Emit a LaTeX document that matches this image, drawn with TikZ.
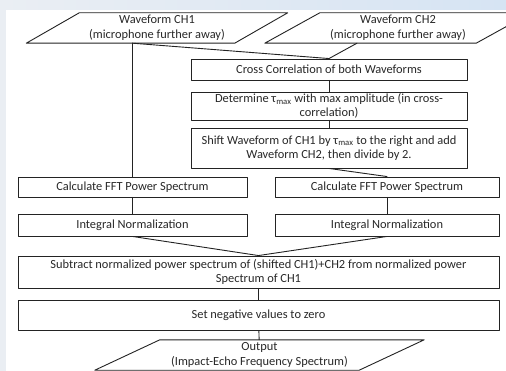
\documentclass[tikz,border=0pt]{standalone}
\usepackage{fontspec}
\setmainfont{Carlito}
\usetikzlibrary{calc}
\definecolor{linec}{RGB}{35,35,35}
\definecolor{textc}{RGB}{40,40,40}
\definecolor{slidebg}{RGB}{234,238,243}
\definecolor{slideblue}{RGB}{214,228,243}
\tikzset{
	procbox/.style={draw=linec,line width=0.9pt,fill=white,align=center,
		inner sep=0pt,text=textc},
	iotext/.style={align=center,inner sep=0pt,text=textc,minimum height=30},
	link/.style={draw=linec,line width=0.9pt}
}
\begin{document}
\begin{tikzpicture}[x=1pt,y=-1pt,font=\fontsize{12.4}{14.5}\selectfont,
	line join=round,line cap=round]
	% slide background
	\fill[slidebg](0,0)rectangle(506,371);
	\shade[left color=slidebg,right color=slideblue](0,0)rectangle(506,10);
	\fill[white](6,10)rectangle(506,371);
	\useasboundingbox(0,0)rectangle(506,371);
	% inputs
	\path(157,28)node[iotext,minimum width=208](ch1)
	{Waveform CH1\\(microphone further away)}
	(398,28)node[iotext,minimum width=211](ch2)
	{Waveform CH2\\(microphone further away)};
	\draw[link]([xshift=-26.5]ch1.south west)--([xshift=-26.5]ch1.south east)
	--([xshift=26.5]ch1.north east)--([xshift=26.5]ch1.north west)--cycle;
	\draw[link]([xshift=-27.5]ch2.south west)--([xshift=-27.5]ch2.south east)
	--([xshift=27.5]ch2.north east)--([xshift=27.5]ch2.north west)--cycle;
	% right column
	\path(329,69.5)node[procbox,minimum width=276,minimum height=21](cross)
	{Cross Correlation of both Waveforms}
	(329,106)node[procbox,minimum width=276,minimum height=28](tmax)
	{Determine τ\textsubscript{max} with max amplitude (in cross-\\correlation)}
	(329,148)node[procbox,minimum width=276,minimum height=40](shift)
	{Shift Waveform of CH1 by τ\textsubscript{max} to the right and add\\
		Waveform CH2, then divide by 2.};
	% spectra
	\path(132.5,187)node[procbox,minimum width=229,minimum height=20](fftL)
	{Calculate FFT Power Spectrum}
	(387,187)node[procbox,minimum width=224,minimum height=20](fftR)
	{Calculate FFT Power Spectrum}
	(132.5,225)node[procbox,minimum width=229,minimum height=22](normL)
	{Integral Normalization}
	(387,225)node[procbox,minimum width=224,minimum height=22](normR)
	{Integral Normalization};
	% result
	\path(258.5,272)node[procbox,minimum width=481,minimum height=32](sub)
	{Subtract normalized power spectrum of (shifted CH1)+CH2 from normalized power\\
		Spectrum of CH1}
	(258.5,315)node[procbox,minimum width=481,minimum height=30](zero)
	{Set negative values to zero}
	(259.5,355)node[iotext,minimum width=264](out)
	{Output\\(Impact-Echo Frequency Spectrum)};
	\draw[link]([xshift=-32.5]out.south west)--([xshift=-32.5]out.south east)
	--([xshift=32.5]out.north east)--([xshift=32.5]out.north west)--cycle;
	% connectors
	\coordinate(ch1out) at (fftL.north |- ch1.south);
	\coordinate(ch2out) at ($(ch2.south)+(-41,0)$);
	\draw[link](ch1out)--(fftL.north);
	\draw[link](ch1out)--(cross.north);
	\draw[link](ch2out)--(cross.north);
	\draw[link](cross)--(tmax);
	\draw[link](tmax)--(shift);
	\draw[link](shift.south)--(fftR.north);
	\draw[link](fftL)--(normL);
	\draw[link](fftR)--(normR);
	\draw[link](normL.south)--(sub.north);
	\draw[link](normR.south)--(sub.north);
	\draw[link](sub)--(zero);
	\draw[link](zero)--(out);
\end{tikzpicture}
\end{document}
